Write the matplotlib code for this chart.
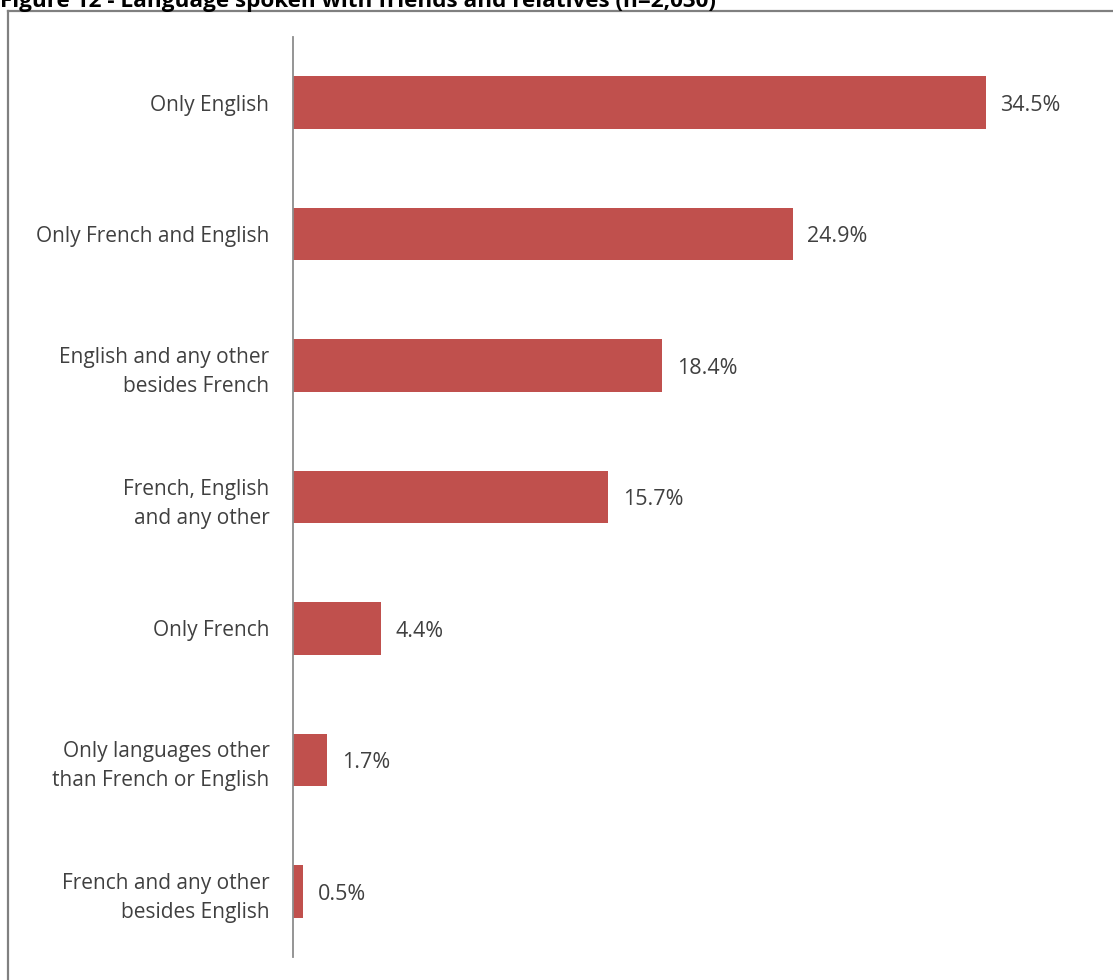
import matplotlib
matplotlib.use("Agg")
import matplotlib.pyplot as plt
from matplotlib.lines import Line2D

categories = [
    "Only English",
    "Only French and English",
    "English and any other\nbesides French",
    "French, English\nand any other",
    "Only French",
    "Only languages other\nthan French or English",
    "French and any other\nbesides English",
]
values = [34.5, 24.9, 18.4, 15.7, 4.4, 1.7, 0.5]
value_labels = ["34.5%", "24.9%", "18.4%", "15.7%", "4.4%", "1.7%", "0.5%"]
title = "Figure 12 - Language spoken with friends and relatives (n=2,030)"

W, H = 1113, 980
fig = plt.figure(figsize=(W / 100, H / 100), dpi=100)
fig.patch.set_facecolor("white")

ax = fig.add_axes([293 / W, 1 - 957 / H, (1096 - 293) / W, (957 - 37) / H])
ypos = list(range(len(categories)))
ax.barh(ypos, values, height=0.4, color="#C0504D", edgecolor="none")
ax.set_ylim(len(categories) - 0.5, -0.5)
ax.set_xlim(0, 40)

ax.set_yticks(ypos)
ax.set_yticklabels(categories, fontsize=15, color="#404040",
                   family="Open Sans", linespacing=1.5)
ax.tick_params(axis="y", length=0, pad=17)
ax.set_xticks([])
for side in ("top", "right", "bottom"):
    ax.spines[side].set_visible(False)
ax.spines["left"].set_color("#8c8c8c")
ax.spines["left"].set_linewidth(1.3)

for y, v, lab in zip(ypos, values, value_labels):
    ax.annotate(lab, (v, y), xytext=(10.5, -2), textcoords="offset points",
                ha="left", va="center", fontsize=15.5, color="#404040",
                family="Open Sans")

# outer frame: left and top edges
fig.add_artist(Line2D([8 / W, 8 / W], [0, 1 - 11 / H], color="#808080",
                      lw=1.6, transform=fig.transFigure))
fig.add_artist(Line2D([8 / W, 1], [1 - 11 / H, 1 - 11 / H], color="#808080",
                      lw=1.6, transform=fig.transFigure))

fig.text(0 / W, 1 - 7.5 / H, title, fontsize=16.2, fontweight="bold",
         family="Open Sans", color="black", ha="left", va="baseline")

fig.savefig("out.png", dpi=100)
